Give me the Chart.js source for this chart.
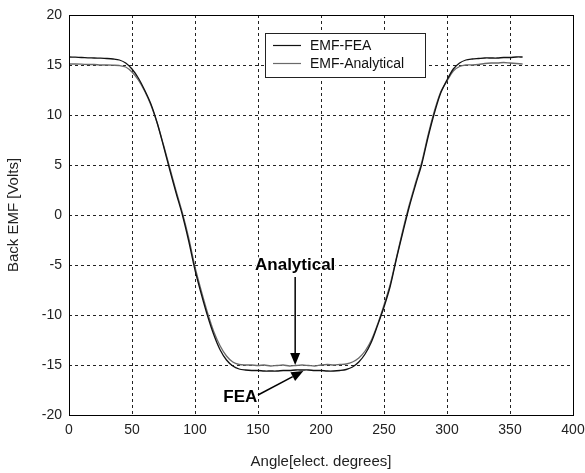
<!DOCTYPE html>
<html>
<head>
<meta charset="utf-8">
<script src="https://cdn.jsdelivr.net/npm/chart.js@4/dist/chart.umd.min.js"></script>
<style>
  html,body{margin:0;padding:0;background:#fff;}
  #wrap{width:585px;height:473px;}
</style>
</head>
<body>
<div id="wrap"><canvas id="c" width="585" height="473"></canvas></div>
<script>
const angles = [0,5,10,15,20,25,30,35,40,45,50,55,60,65,70,75,80,85,90,95,100,105,110,115,120,125,130,135,140,145,150,155,160,165,170,175,180,185,190,195,200,205,210,215,220,225,230,235,240,245,250,255,260,265,270,275,280,285,290,295,300,305,310,315,320,325,330,335,340,345,350,355,360];
const emfFEA = [15.8,15.78,15.75,15.72,15.7,15.68,15.65,15.6,15.5,15.2,14.6,13.7,12.5,11.1,9.2,6.9,4.5,2.2,0.0,-2.6,-5.5,-7.9,-10.1,-12.0,-13.5,-14.5,-15.1,-15.4,-15.5,-15.55,-15.55,-15.6,-15.6,-15.6,-15.55,-15.55,-15.5,-15.5,-15.5,-15.55,-15.55,-15.6,-15.6,-15.55,-15.45,-15.2,-14.7,-13.9,-12.7,-11.0,-9.2,-7.1,-4.3,-1.7,0.8,3.0,5.1,7.8,10.2,12.2,13.5,14.6,15.2,15.5,15.6,15.65,15.7,15.7,15.7,15.75,15.75,15.8,15.8];
const emfAnalytical = [15.1,15.1,15.08,15.05,15.05,15.0,15.0,14.98,14.95,14.8,14.3,13.5,12.4,11.0,9.2,7.0,4.7,2.4,0.2,-2.3,-5.2,-7.6,-9.8,-11.7,-13.1,-14.1,-14.7,-14.95,-15.0,-15.0,-15.05,-15.0,-15.1,-15.05,-15.0,-15.1,-15.05,-15.0,-15.05,-15.1,-15.0,-14.95,-15.0,-14.95,-14.9,-14.7,-14.3,-13.6,-12.5,-10.9,-9.0,-6.9,-4.2,-1.5,1.0,3.2,5.3,8.0,10.4,12.3,13.4,14.4,14.85,15.0,15.0,15.05,15.15,15.2,15.2,15.25,15.2,15.15,15.1];
const seriesNames = ['EMF-FEA','EMF-Analytical'];
const xTicks = [0,50,100,150,200,250,300,350,400];
const yTicks = [-20,-15,-10,-5,0,5,10,15,20];

const FONT = '"Liberation Sans", Arial, Helvetica, sans-serif';

const pts = (ys) => angles.map((a,i)=>({x:a,y:ys[i]}));

const framePlugin = {
  id:'frame',
  afterDraw(chart){
    const {ctx, chartArea:a} = chart;
    ctx.save();
    ctx.strokeStyle = '#000';
    ctx.lineWidth = 1;
    ctx.setLineDash([]);
    ctx.strokeRect(Math.round(a.left)+0.5, Math.round(a.top)+0.5, Math.round(a.right-a.left), Math.round(a.bottom-a.top));
    ctx.restore();
  }
};

const legendPlugin = {
  id:'boxLegend',
  afterDraw(chart, args, o){
    const ctx = chart.ctx;
    ctx.save();
    ctx.fillStyle = '#fff';
    ctx.fillRect(o.x, o.y, o.w, o.h);
    ctx.strokeStyle = '#222';
    ctx.lineWidth = 1;
    ctx.strokeRect(o.x+0.5, o.y+0.5, o.w, o.h);
    ctx.font = '14px ' + FONT;
    ctx.textBaseline = 'middle';
    chart.data.datasets.forEach((ds,i)=>{
      const yy = o.y + o.rowTop + i*o.rowGap;
      ctx.strokeStyle = ds.borderColor;
      ctx.lineWidth = 1.2;
      ctx.beginPath();
      ctx.moveTo(o.x+8, yy+0.5);
      ctx.lineTo(o.x+36, yy+0.5);
      ctx.stroke();
      ctx.fillStyle = '#111';
      ctx.fillText(ds.label, o.x+45, yy+1);
    });
    ctx.restore();
  }
};

function arrow(ctx, x1,y1,x2,y2){
  const ang = Math.atan2(y2-y1, x2-x1);
  const L = 12, W = 5;
  const bx = x2 - L*Math.cos(ang), by = y2 - L*Math.sin(ang);
  ctx.beginPath();
  ctx.moveTo(x1,y1); ctx.lineTo(bx,by); ctx.stroke();
  ctx.beginPath();
  ctx.moveTo(x2,y2);
  ctx.lineTo(bx + W*Math.sin(ang), by - W*Math.cos(ang));
  ctx.lineTo(bx - W*Math.sin(ang), by + W*Math.cos(ang));
  ctx.closePath(); ctx.fill();
}

const notePlugin = {
  id:'notes',
  afterDraw(chart, args, o){
    const ctx = chart.ctx, xs = chart.scales.x, ys = chart.scales.y;
    ctx.save();
    ctx.font = 'bold 17px ' + FONT;
    ctx.textAlign = 'center';
    ctx.textBaseline = 'middle';
    o.items.forEach(it=>{
      const tx = xs.getPixelForValue(it.text[0]), ty = ys.getPixelForValue(it.text[1]);
      ctx.strokeStyle = '#000'; ctx.fillStyle = '#000'; ctx.lineWidth = 1.5;
      arrow(ctx, xs.getPixelForValue(it.from[0]), ys.getPixelForValue(it.from[1]),
                 xs.getPixelForValue(it.to[0]), ys.getPixelForValue(it.to[1]));
      ctx.lineWidth = 3; ctx.strokeStyle = '#fff'; ctx.lineJoin='round';
      ctx.strokeText(it.label, tx, ty);
      ctx.fillStyle = '#000';
      ctx.fillText(it.label, tx, ty);
    });
    ctx.restore();
  }
};

new Chart(document.getElementById('c'), {
  type:'line',
  data:{
    datasets:[
      {label:seriesNames[0], data:pts(emfFEA), borderColor:'#111', borderWidth:1.3, pointRadius:0, tension:0.3, fill:false},
      {label:seriesNames[1], data:pts(emfAnalytical), borderColor:'#6a6a6a', borderWidth:1.3, pointRadius:0, tension:0.3, fill:false}
    ]
  },
  options:{
    responsive:false,
    animation:false,
    events:[],
    layout:{padding:{left:0, top:15, right:12, bottom:0}},
    plugins:{
      legend:{display:false},
      tooltip:{enabled:false},
      boxLegend:{x:265, y:33, w:160, h:44, rowTop:12, rowGap:18},
      notes:{items:[
        {label:'Analytical', text:[179.5,-5.0], from:[179.5,-6.2], to:[179.5,-15.0]},
        {label:'FEA', text:[136,-18.2], from:[150,-18.0], to:[186,-15.6]}
      ]}
    },
    scales:{
      x:{
        type:'linear', min:0, max:400,
        afterBuildTicks(s){ s.ticks = xTicks.map(v=>({value:v})); },
        afterFit(s){ s.height = 58; s.paddingLeft = 0; s.paddingRight = 0; },
        grid:{color:'#222', lineWidth:1, drawTicks:false},
        border:{display:false, dash:[3,3]},
        ticks:{color:'#222', font:{family:FONT, size:14}, padding:7, maxRotation:0},
        title:{display:true, text:'Angle[elect. degrees]', color:'#222', font:{family:FONT, size:15}, padding:{top:0,bottom:2}}
      },
      y:{
        type:'linear', min:-20, max:20,
        afterBuildTicks(s){ s.ticks = yTicks.map(v=>({value:v})); },
        afterFit(s){ s.width = 69; s.paddingTop = 0; s.paddingBottom = 0; },
        grid:{color:'#222', lineWidth:1, drawTicks:false},
        border:{display:false, dash:[3,3]},
        ticks:{color:'#222', font:{family:FONT, size:14}, padding:7},
        title:{display:true, text:'Back EMF [Volts]', color:'#222', font:{family:FONT, size:15}, padding:{top:5,bottom:0}}
      }
    }
  },
  plugins:[framePlugin, legendPlugin, notePlugin]
});
</script>
</body>
</html>
